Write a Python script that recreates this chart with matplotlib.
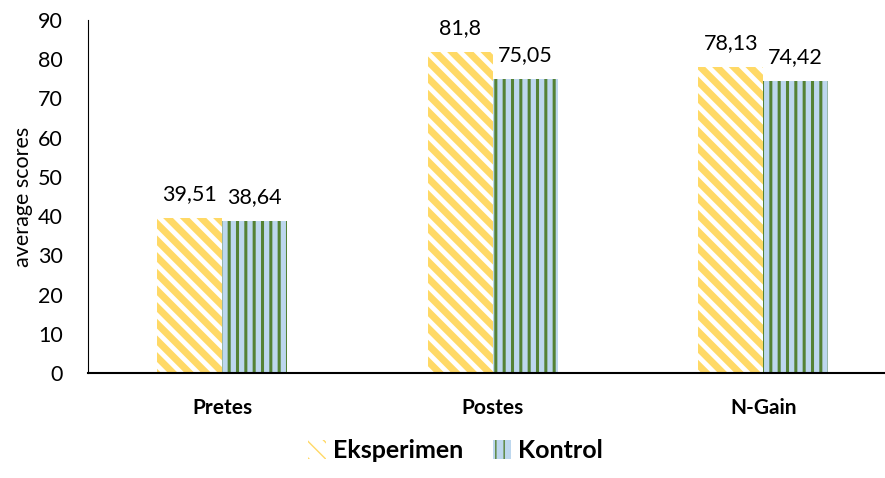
import matplotlib
matplotlib.use('Agg')
from matplotlib import pyplot as plt
import numpy as np

categories = ['Pretes', 'Postes', 'N-Gain']
eksperimen = [39.51, 81.8, 78.13]
kontrol = [38.64, 75.05, 74.42]
eks_labels = ['39,51', '81,8', '78,13']
kon_labels = ['38,64', '75,05', '74,42']

plt.rcParams['font.family'] = ['Lato', 'DejaVu Sans']

fig = plt.figure(figsize=(8.85, 4.78), dpi=100)
ax = fig.add_axes([88 / 885, (478 - 373) / 478, 1 - 88 / 885, (373 - 20) / 478])

x = np.arange(len(categories))
w = 0.24

with plt.rc_context({'hatch.linewidth': 5.0}):
    b1 = ax.bar(x - w / 2, eksperimen, w, color='white', edgecolor='#FFD966',
                linewidth=0, hatch='\\\\', label='Eksperimen')
with plt.rc_context({'hatch.linewidth': 2.2}):
    b2 = ax.bar(x + w / 2, kontrol, w, color='#BDD7EE', edgecolor='#548235',
                linewidth=0, hatch='||', label='Kontrol')

for bars, labs in ((b1, eks_labels), (b2, kon_labels)):
    for r, t in zip(bars, labs):
        ax.annotate(t, (r.get_x() + r.get_width() / 2, r.get_height()),
                    xytext=(0, 10), textcoords='offset points',
                    ha='center', va='bottom', fontsize=15.5)

ax.set_xlim(-0.495, 2.45)
ax.set_ylim(0, 90)
ax.set_yticks(range(0, 91, 10))
ax.set_xticks(x)
ax.set_xticklabels(categories, fontsize=15, fontweight='bold')
ax.tick_params(axis='y', labelsize=15.5, length=0, pad=18)
ax.tick_params(axis='x', length=0, pad=18)
ax.set_ylabel('average scores', fontsize=15.5, labelpad=4)

for s in ('top', 'right'):
    ax.spines[s].set_visible(False)
ax.spines['left'].set_linewidth(0.8)
ax.spines['bottom'].set_linewidth(1.5)

leg = fig.legend(handles=[b1, b2], loc='center', bbox_to_anchor=(0.515, 0.058),
                 ncol=2, frameon=False, prop={'size': 18, 'weight': 'bold'},
                 handlelength=0.7, handleheight=0.8, handletextpad=0.3, columnspacing=1.2)

fig.savefig('out.png', dpi=100)
